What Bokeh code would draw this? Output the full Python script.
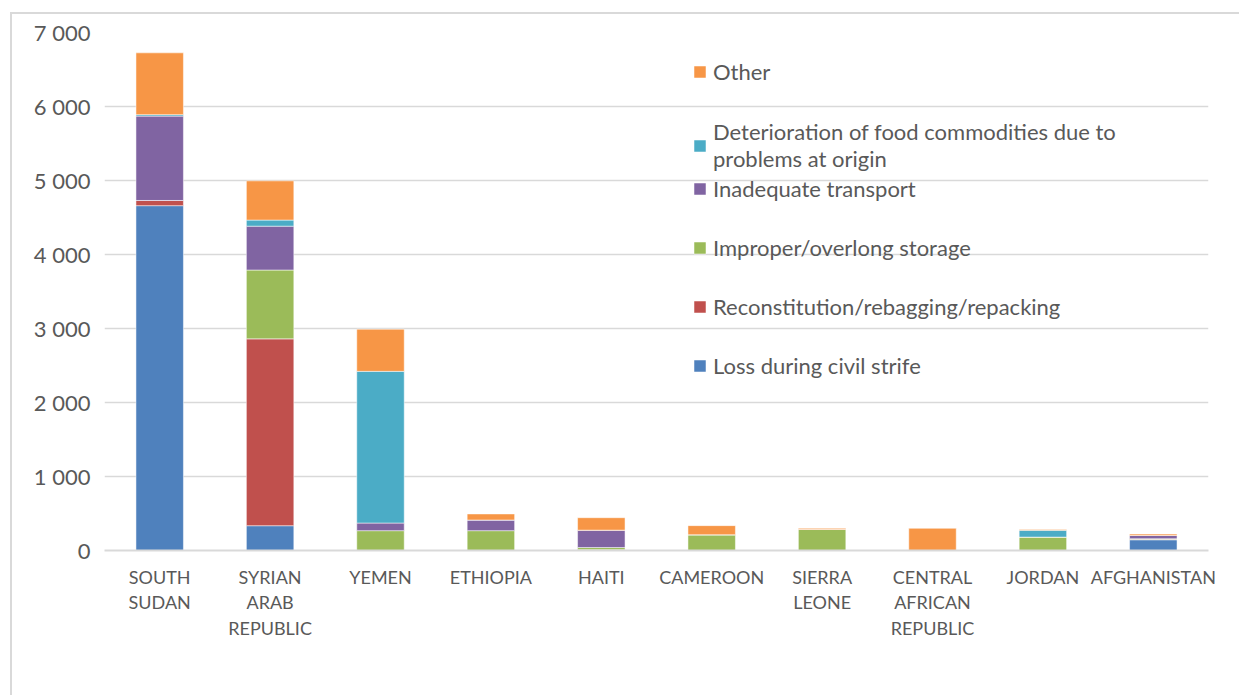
from bokeh.plotting import figure
from bokeh.models import Legend, LegendItem, FixedTicker, FactorRange, Range1d, ColumnDataSource
from bokeh.embed import file_html
from bokeh.resources import INLINE

categories = ["SOUTH\nSUDAN", "SYRIAN\nARAB\nREPUBLIC", "YEMEN", "ETHIOPIA", "HAITI",
              "CAMEROON", "SIERRA\nLEONE", "CENTRAL\nAFRICAN\nREPUBLIC", "JORDAN", "AFGHANISTAN"]

loss = [4660, 335, 0, 0, 0, 0, 0, 0, 0, 145]
reconstitution = [70, 2525, 0, 0, 10, 0, 0, 0, 0, 7]
storage = [0, 930, 268, 268, 30, 213, 285, 0, 181, 7]
transport = [1140, 593, 103, 144, 235, 0, 0, 0, 0, 45]
deterioration = [20, 82, 2050, 0, 0, 0, 0, 0, 91, 0]
other = [835, 530, 570, 82, 168, 123, 14, 300, 13, 18]

series_keys = ["loss", "reconstitution", "storage", "transport", "deterioration", "other"]
series_labels = ["Loss during civil strife", "Reconstitution/rebagging/repacking",
                 "Improper/overlong storage", "Inadequate transport",
                 "Deterioration of food commodities due to\nproblems at origin", "Other"]
colors = ["#4F81BD", "#C0504D", "#9BBB59", "#8064A2", "#4BACC6", "#F79646"]

y_ticks = [0, 1000, 2000, 3000, 4000, 5000, 6000, 7000]
y_tick_labels = ["0", "1 000", "2 000", "3 000", "4 000", "5 000", "6 000", "7 000"]

source = ColumnDataSource(dict(cat=categories, loss=loss,
                               reconstitution=reconstitution, storage=storage,
                               transport=transport, deterioration=deterioration, other=other))

FONT = "Lato"
GREY = "#595959"

p = figure(x_range=FactorRange(*categories, range_padding=0), y_range=Range1d(0, 7000),
           width=1229, height=683, output_backend="svg", toolbar_location=None,
           min_border_left=92, min_border_right=33, min_border_top=18, min_border_bottom=147,
           margin=(12, 0, 0, 10))
p.styles = {"border-top": "2px solid #d9d9d9", "border-left": "2px solid #d9d9d9",
            "box-sizing": "border-box"}
p.outline_line_color = None

rs = p.vbar_stack(series_keys, x="cat", width=0.43, color=colors, source=source,
                  line_color="white", line_alpha=0.5, line_width=1)

p.xgrid.grid_line_color = None
p.ygrid.grid_line_color = "#d9d9d9"
p.ygrid.grid_line_width = 1.5
p.yaxis.ticker = FixedTicker(ticks=y_ticks)
p.yaxis.major_label_overrides = {t: l for t, l in zip(y_ticks, y_tick_labels)}
p.yaxis.axis_line_color = None
p.yaxis.major_tick_line_color = None
p.yaxis.minor_tick_line_color = None
p.yaxis.major_label_text_font = FONT
p.yaxis.major_label_text_font_size = "22px"
p.yaxis.major_label_text_color = GREY
p.yaxis.major_label_standoff = 8

p.xaxis.axis_line_color = "#d9d9d9"
p.xaxis.axis_line_width = 2
p.xaxis.major_tick_line_color = None
p.xaxis.minor_tick_line_color = None
p.xaxis.major_label_text_font = FONT
p.xaxis.major_label_text_font_size = "18px"
p.xaxis.major_label_text_color = GREY
p.xaxis.major_label_text_line_height = 1.18
p.xaxis.major_label_standoff = 9

common = dict(padding=0, margin=0, glyph_width=15, glyph_height=15, label_standoff=6,
              label_text_font=FONT, label_text_font_size="22px", label_text_color=GREY,
              label_text_line_height=1.12, border_line_color=None, background_fill_alpha=0,
              orientation="vertical")

leg_other = Legend(items=[LegendItem(label=series_labels[5], renderers=[rs[5]])],
                   location=(588, 464), label_height=30, spacing=0, **common)
leg_det = Legend(items=[LegendItem(label=series_labels[4], renderers=[rs[4]])],
                 location=(588, 376), label_height=58, spacing=0, **common)
leg_rest = Legend(items=[LegendItem(label=series_labels[i], renderers=[rs[i]]) for i in (3, 2, 1, 0)],
                  location=(588, 170), label_height=30, spacing=29, **common)
for lg in (leg_other, leg_det, leg_rest):
    p.add_layout(lg)

open("out.html", "w").write(file_html(p, INLINE))
